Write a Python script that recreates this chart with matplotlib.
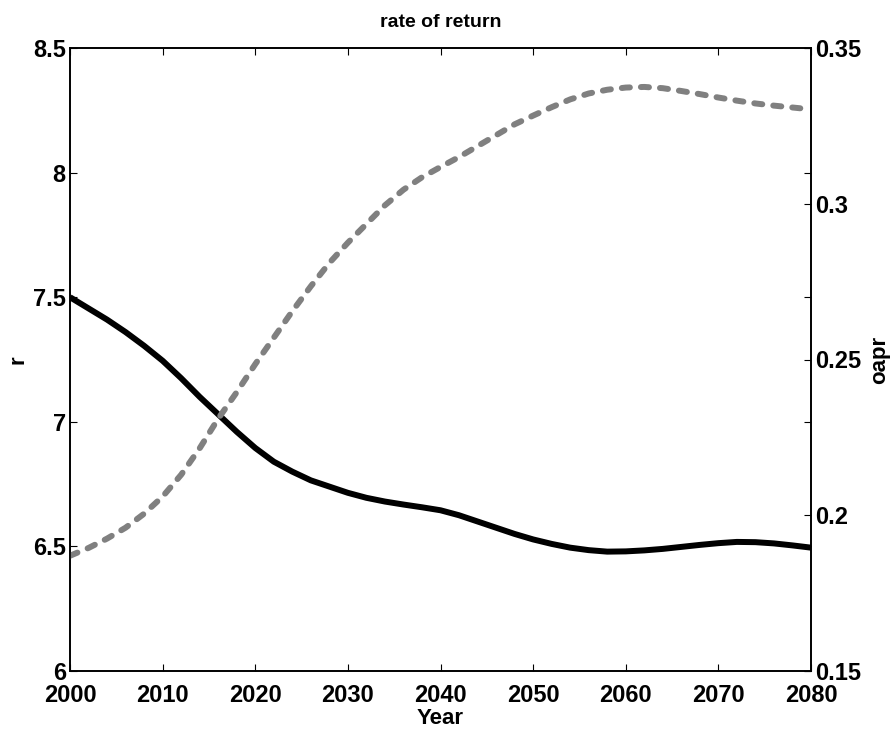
import numpy as np
import matplotlib.pyplot as plt

plt.rcParams['font.family'] = ['Liberation Sans', 'DejaVu Sans']
plt.rcParams['font.weight'] = 'bold'

years = list(range(2000, 2081, 2))
r = [7.50, 7.455, 7.41, 7.36, 7.305, 7.245, 7.175, 7.10, 7.03, 6.96,
     6.895, 6.84, 6.80, 6.765, 6.74, 6.715, 6.695, 6.68, 6.668, 6.657,
     6.645, 6.625, 6.60, 6.575, 6.55, 6.528, 6.51, 6.495, 6.485, 6.479,
     6.48, 6.484, 6.49, 6.498, 6.506, 6.513, 6.518, 6.517, 6.512, 6.504,
     6.495]
oapr = [0.187, 0.1895, 0.1925, 0.196, 0.2005, 0.206, 0.213, 0.2215, 0.231,
        0.2395, 0.2485, 0.257, 0.2655, 0.2735, 0.281, 0.2875, 0.2935,
        0.2995, 0.3045, 0.3085, 0.3118, 0.315, 0.3185, 0.322, 0.3255,
        0.3283, 0.331, 0.3335, 0.3354, 0.3366, 0.3373, 0.3375, 0.3371,
        0.3362, 0.3352, 0.3341, 0.3331, 0.3322, 0.3315, 0.3309, 0.3303]

fig = plt.figure(figsize=(8.95, 7.29), dpi=100)
ax = fig.add_axes([70/895, 1-671/729, (811-70)/895, (671-48)/729])
ax2 = ax.twinx()

ax.plot(years, r, color='black', lw=4.3, solid_capstyle='butt')
ax2.plot(years, oapr, color='#808080', lw=4.3, dashes=(1.35, 1.85),
         dash_capstyle='round')

ax.set_xlim(2000, 2080)
ax.set_ylim(6, 8.5)
ax2.set_ylim(0.15, 0.35)
ax.set_xticks(np.arange(2000, 2081, 10))
ax.set_yticks([6, 6.5, 7, 7.5, 8, 8.5])
ax.set_yticklabels(['6', '6.5', '7', '7.5', '8', '8.5'])
ax2.set_yticks([0.15, 0.2, 0.25, 0.3, 0.35])
ax2.set_yticklabels(['0.15', '0.2', '0.25', '0.3', '0.35'])

ax.tick_params(direction='in', length=5, width=0.8, labelsize=17,
               top=True, right=True)
ax.tick_params(axis='x', pad=9)
ax.tick_params(axis='y', pad=3)
ax2.tick_params(direction='in', length=5, width=0.8, labelsize=17, pad=3)
for a in (ax, ax2):
    for s in a.spines.values():
        s.set_linewidth(1.2)

ax.set_xlabel('Year', fontsize=16, fontweight='bold', labelpad=1)
ax.set_ylabel('r', fontsize=16, fontweight='bold', labelpad=3)
ax2.set_ylabel('oapr', fontsize=16, fontweight='bold', labelpad=6)
ax.set_title('rate of return', fontsize=14, fontweight='bold', pad=15)

fig.savefig('out.png', dpi=100)
